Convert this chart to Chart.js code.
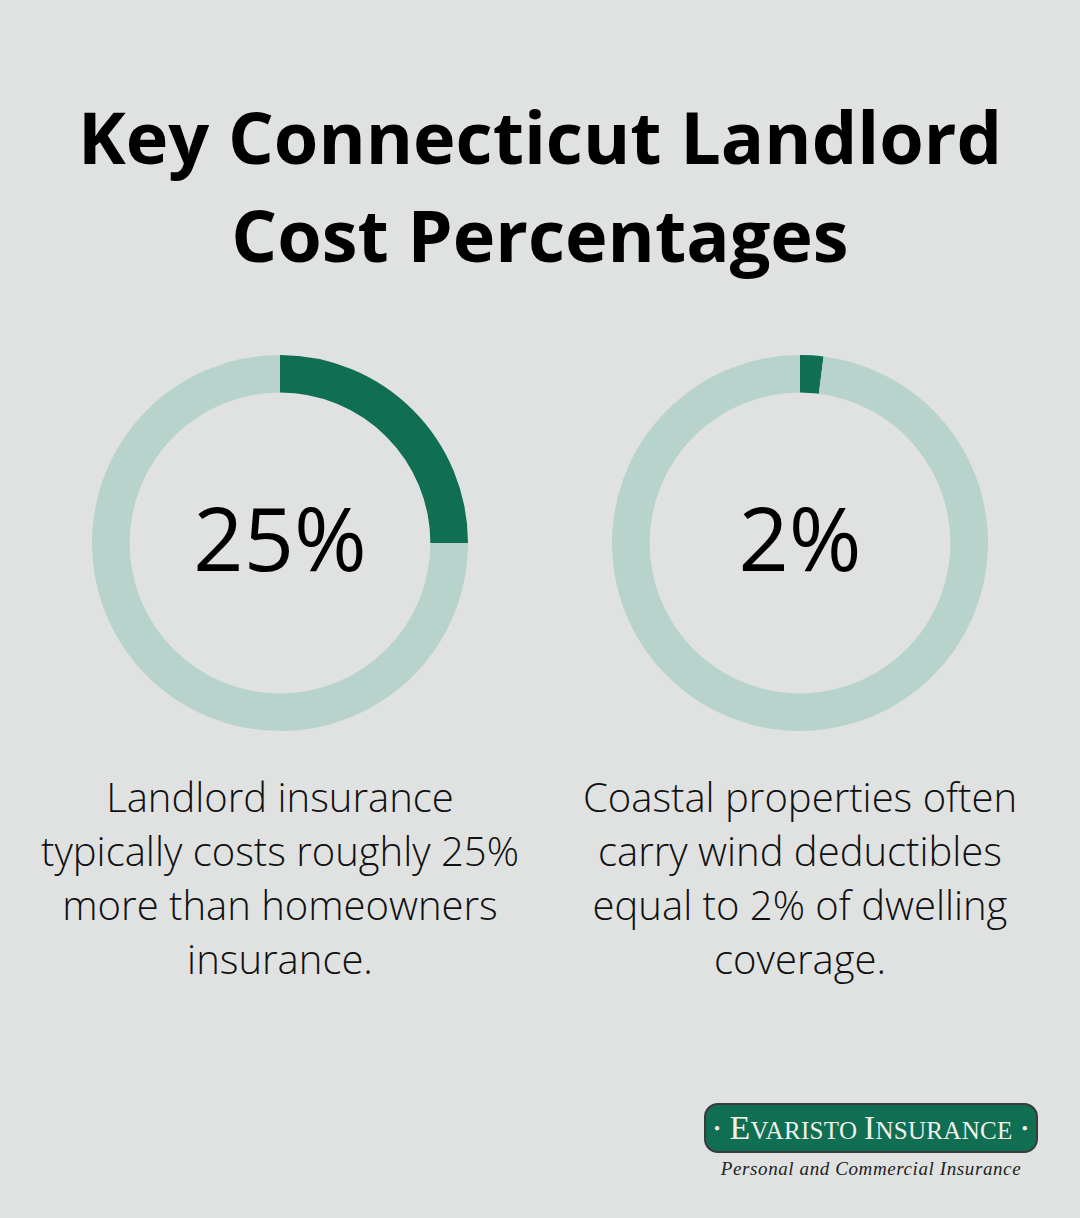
<!DOCTYPE html>
<html>
<head>
<meta charset="utf-8">
<script src="https://cdn.jsdelivr.net/npm/chart.js@4"></script>
<style>
    html, body { margin: 0; padding: 0; }
    body {
        width: 1080px; height: 1218px;
        background: #e0e2e1;
        position: relative; overflow: hidden;
        font-family: 'Open Sans', sans-serif;
    }
    .title {
        position: absolute; left: 0; top: 87px; width: 1080px;
        text-align: center; font-weight: 700; font-size: 72px;
        line-height: 98px; color: #000;
    }
    .donut { position: absolute; width: 376px; height: 376px; top: 355px; }
    .caption {
        position: absolute; top: 770px; width: 520px;
        text-align: center; font-weight: 300; font-size: 40px;
        line-height: 54px; color: #111;
    }
    .logo { position: absolute; left: 704px; top: 1103px; width: 334px; }
    .badge {
        height: 46px; background: #106e52; border: 2px solid #3a3a3a;
        border-radius: 14px; color: #f1f1ea; text-align: center;
        font-family: 'Liberation Serif', serif; font-size: 25px;
        line-height: 46px; letter-spacing: 0.3px; position: relative;
    }
    .badge .big { font-size: 34px; }
    .badge .dot { position: absolute; top: 0; font-size: 10px; }
    .tagline {
        text-align: center; font-family: 'Liberation Serif', serif;
        font-style: italic; font-size: 19px; color: #222; margin-top: 5px;
        letter-spacing: 0.6px;
    }
</style>
</head>
<body>
<div class="title">Key Connecticut Landlord<br>Cost Percentages</div>

<div class="donut" style="left:92px"><canvas id="donut0"></canvas></div>
<div class="donut" style="left:612px"><canvas id="donut1"></canvas></div>

<div class="caption" id="cap0" style="left:20px"></div>
<div class="caption" id="cap1" style="left:540px"></div>

<div class="logo">
    <div class="badge"><span class="dot" style="left:8px">&#9679;</span><span class="big">E</span>VARISTO <span class="big">I</span>NSURANCE<span class="dot" style="right:8px">&#9679;</span></div>
    <div class="tagline">Personal and Commercial Insurance</div>
</div>

<script>
// ===== DATA =====
const percentages = [25, 2];
const captions = [
    ['Landlord insurance', 'typically costs roughly 25%', 'more than homeowners', 'insurance.'],
    ['Coastal properties often', 'carry wind deductibles', 'equal to 2% of dwelling', 'coverage.']
];

const darkGreen = '#106e52';
const lightGreen = '#b7d3cc';

// ===== CENTER LABEL PLUGIN =====
const centerLabel = {
    id: 'centerLabel',
    afterDraw(chart) {
        const { ctx, chartArea } = chart;
        const x = (chartArea.left + chartArea.right) / 2;
        const y = (chartArea.top + chartArea.bottom) / 2;
        ctx.save();
        ctx.font = '500 88px "Open Sans"';
        ctx.fillStyle = '#000';
        ctx.textAlign = 'center';
        ctx.textBaseline = 'middle';
        ctx.fillText(chart.options.plugins.centerLabel.text, x, y + 3);
        ctx.restore();
    }
};

function buildDonut(i) {
    const value = percentages[i];
    new Chart(document.getElementById('donut' + i), {
        type: 'doughnut',
        data: {
            labels: ['Share', 'Rest'],
            datasets: [{
                data: [value, 100 - value],
                backgroundColor: [darkGreen, lightGreen],
                borderWidth: 0
            }]
        },
        options: {
            responsive: true,
            maintainAspectRatio: true,
            animation: false,
            cutout: '80%',
            layout: { padding: 0 },
            plugins: {
                legend: { display: false },
                tooltip: { enabled: false },
                centerLabel: { text: value + '%' }
            }
        },
        plugins: [centerLabel]
    });
    document.getElementById('cap' + i).innerHTML = captions[i].join('<br>');
}

document.addEventListener('DOMContentLoaded', () => {
    percentages.forEach((v, i) => buildDonut(i));
});
</script>
</body>
</html>
